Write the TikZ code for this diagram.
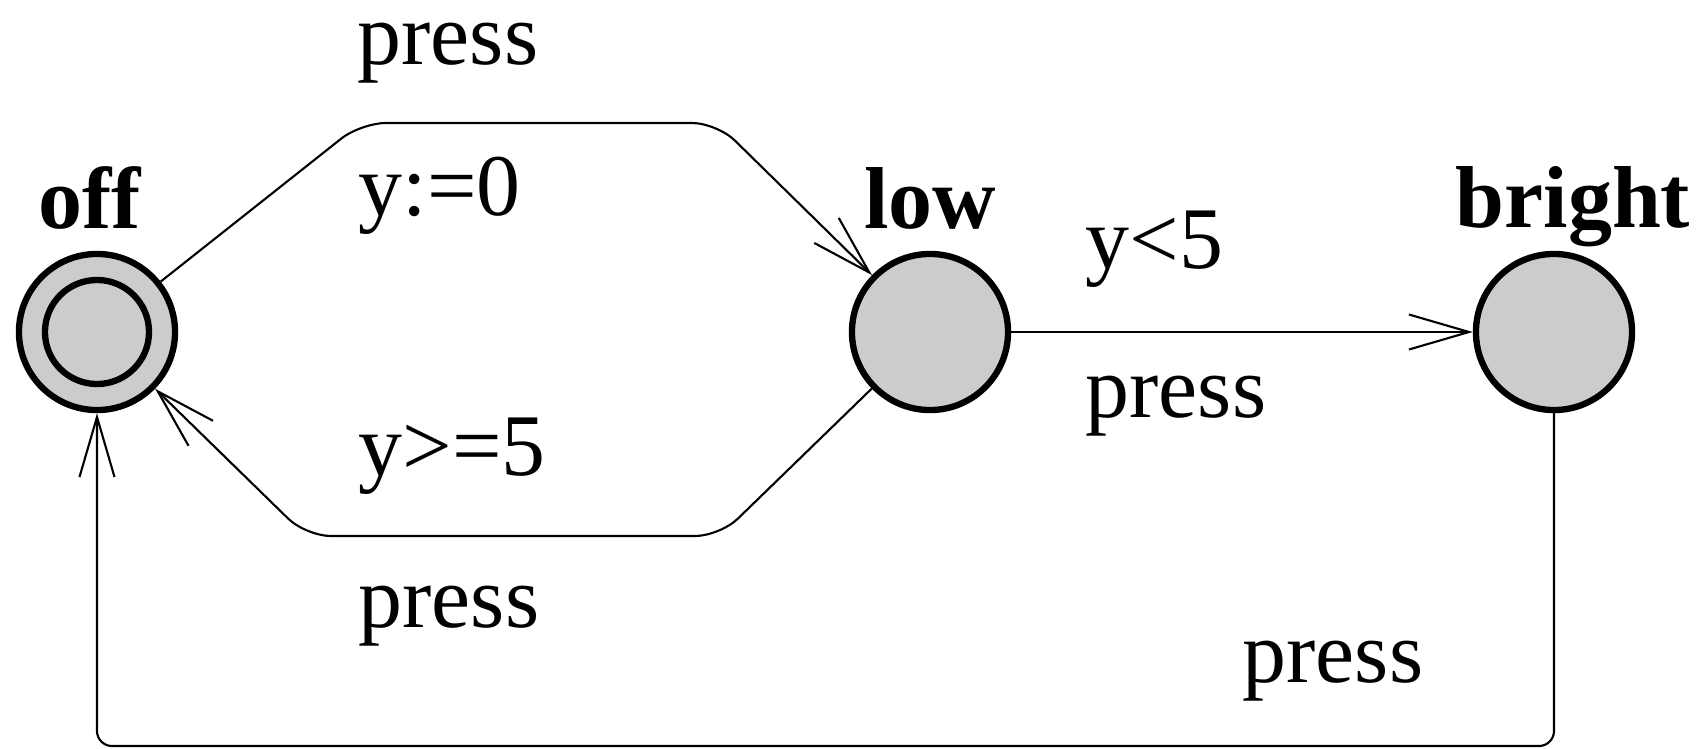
\documentclass[tikz,border=0pt]{standalone}
\usepackage{fontspec}
\setmainfont{Liberation Serif}
\usetikzlibrary{arrows.meta, positioning}

\begin{document}
\begin{tikzpicture}[
        x=0.01cm, y=-0.01cm,
        state/.style={
            circle,
            draw=black,
            fill=black!20,
            line width=1.8pt,
            minimum size=15.6mm,
            inner sep=0pt
        },
        inner ring/.style={
            circle,
            draw=black,
            line width=1.8pt,
            minimum size=10.4mm,
            inner sep=0pt
        },
        statename/.style={
            font=\fontsize{25}{30}\selectfont\bfseries,
            inner sep=0pt
        },
        edgelabel/.style={
            font=\fontsize{25}{30}\selectfont,
            inner sep=0pt,
            anchor=base west
        },
        arrow/.style={
            -{Straight Barb[length=6mm, width=3.5mm]},
            line width=0.6pt
        }
    ]
        \useasboundingbox (0,0) rectangle (1708,748);

        % Nodes
        \node[state] (off) at (97,332) {};
        \node[inner ring] (offring) at (off.center) {};
        \node[state] (low) at (930,332) {};
        \node[state] (bright) at (1554,332) {};

        \node[statename, above=2.1mm of off, xshift=-0.7mm] (offname) {off};
        \node[statename, above=2.1mm of low] (lowname) {low};
        \node[statename, above=0.3mm of bright, xshift=1.9mm] (brightname) {bright};

        % Bends
        \coordinate (u1) at (361,123);
        \coordinate (u2) at (717,123);
        \coordinate (d1) at (720,536);
        \coordinate (d2) at (306,536);
        \coordinate (c1) at (1554,746);
        \coordinate (c2) at (97,746);

        % Edges
        \draw[arrow, rounded corners=2.5mm] (off) -- (u1) -- (u2) -- (low);
        \draw[arrow, rounded corners=2.5mm] (low) -- (d1) -- (d2) -- (off);
        \draw[arrow] (low) -- (bright);
        \draw[arrow, rounded corners=1.5mm] (bright) -- (c1) -- (c2) -- (off);

        % Labels
        \node[edgelabel] (sync1) at (357,64) {press};
        \node[edgelabel] (reset1) at (358,215) {y:=0};
        \node[edgelabel] (guard2) at (358,475) {y>=5};
        \node[edgelabel] (sync2) at (358,627) {press};
        \node[edgelabel] (guard3) at (1085,268) {y<5};
        \node[edgelabel] (sync3) at (1085,417) {press};
        \node[edgelabel] (sync4) at (1242,682) {press};
    \end{tikzpicture}
\end{document}
